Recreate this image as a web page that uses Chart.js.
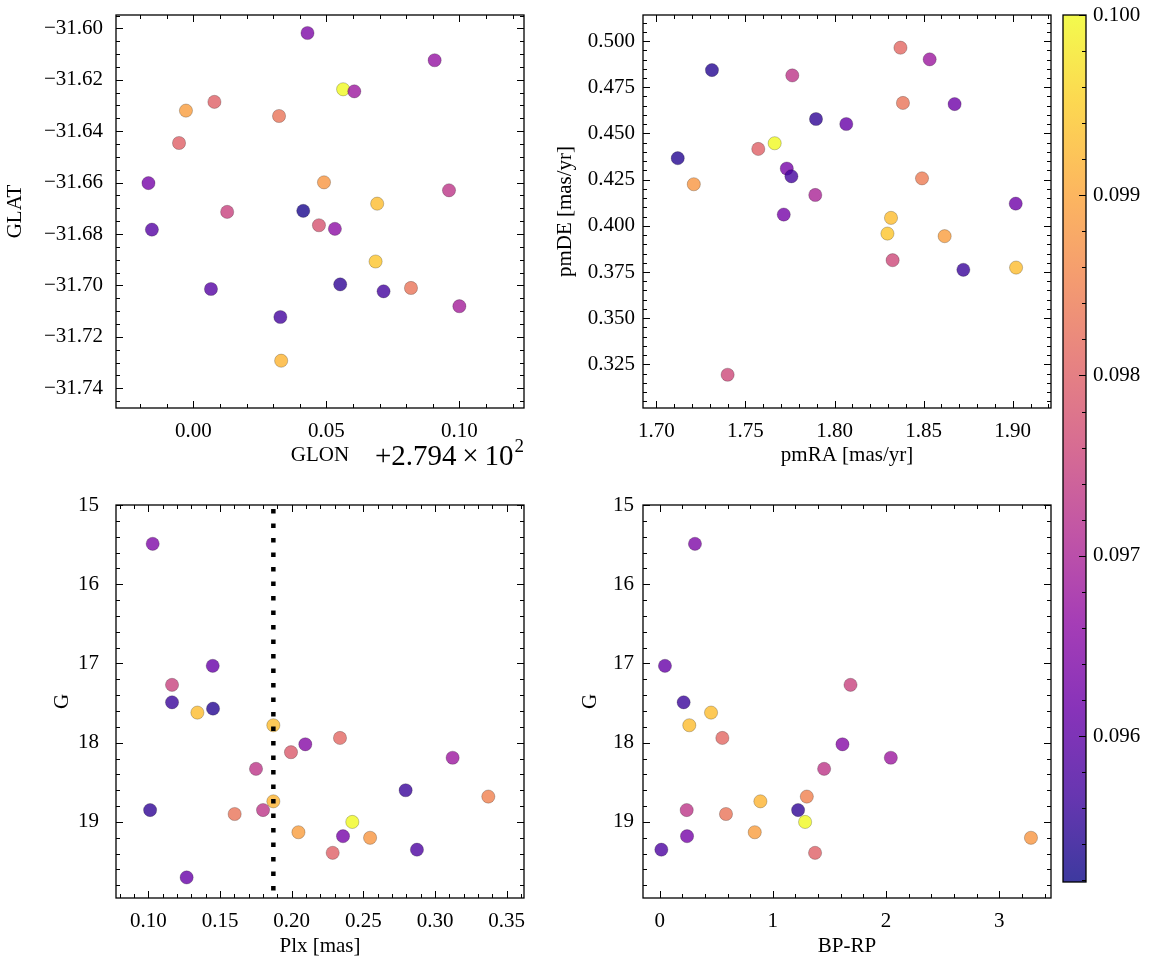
<!DOCTYPE html>
<html>
<head>
<meta charset="utf-8">
<script src="https://cdn.jsdelivr.net/npm/chart.js@4.4.1/dist/chart.umd.min.js"></script>
<style>
  body { margin: 0; background: #fff; }
  #wrap { position: relative; width: 1155px; height: 965px; }
  canvas { position: absolute; }
</style>
</head>
<body>
<div id="wrap">
  <canvas id="pos"></canvas>
  <canvas id="pm"></canvas>
  <canvas id="plx"></canvas>
  <canvas id="cmd"></canvas>
  <canvas id="cbar"></canvas>
</div>
<script>
// ---- panel 1 : sky position ----
const glonOffset = 279.4;
const glon = [279.4429, 279.4907, 279.4563, 279.4605, 279.4079, 279.3972, 279.4322, 279.3946, 279.3831, 279.4491,
              279.4961, 279.4691, 279.4127, 279.4413, 279.4472, 279.4532, 279.3844, 279.4685, 279.4552, 279.4066,
              279.4715, 279.4818, 279.5000, 279.4327, 279.4330];
const glat = [-31.6018, -31.6124, -31.6237, -31.6245, -31.6286, -31.6320, -31.6341, -31.6446, -31.6602, -31.6599,
              -31.6630, -31.6682, -31.6714, -31.6710, -31.6766, -31.6780, -31.6783, -31.6907, -31.6996, -31.7014,
              -31.7023, -31.7010, -31.7081, -31.7123, -31.7293];
const cPos = [0.0964, 0.0967, 0.1000, 0.0968, 0.0980, 0.0989, 0.0983, 0.0980, 0.0963, 0.0988,
              0.0973, 0.0993, 0.0975, 0.0953, 0.0978, 0.0966, 0.0959, 0.0994, 0.0955, 0.0959,
              0.0957, 0.0983, 0.0969, 0.0957, 0.0992];
const glonTicks = [279.40, 279.45, 279.50];
const glatTicks = [-31.60, -31.62, -31.64, -31.66, -31.68, -31.70, -31.72, -31.74];

// ---- panel 2 : proper motions ----
const pmra = [1.8370, 1.8534, 1.7312, 1.7763, 1.8384, 1.8674, 1.7896, 1.8066, 1.7664, 1.7572,
              1.7120, 1.7732, 1.7758, 1.7210, 1.8491, 1.7892, 1.7715, 1.9017, 1.8317, 1.8297,
              1.8618, 1.8326, 1.8723, 1.9019, 1.7400];
const pmde = [0.4964, 0.4901, 0.4843, 0.4814, 0.4665, 0.4659, 0.4578, 0.4551, 0.4447, 0.4416,
              0.4366, 0.4310, 0.4268, 0.4225, 0.4257, 0.4167, 0.4061, 0.4120, 0.4043, 0.3958,
              0.3944, 0.3814, 0.3762, 0.3774, 0.3194];
const cPm = [0.0981, 0.0968, 0.0954, 0.0973, 0.0983, 0.0962, 0.0955, 0.0961, 0.1000, 0.0980,
             0.0954, 0.0963, 0.0957, 0.0988, 0.0984, 0.0970, 0.0963, 0.0962, 0.0993, 0.0994,
             0.0989, 0.0976, 0.0956, 0.0993, 0.0976];
const pmraTicks = [1.70, 1.75, 1.80, 1.85, 1.90];
const pmdeTicks = [0.325, 0.350, 0.375, 0.400, 0.425, 0.450, 0.475, 0.500];

// ---- panels 3 & 4 : parallax and colour-magnitude ----
const plx  = [0.1030, 0.1449, 0.1165, 0.1165, 0.1342, 0.1451, 0.1872, 0.2337, 0.2095, 0.1995,
              0.3123, 0.1751, 0.2795, 0.3372, 0.1872, 0.1012, 0.1602, 0.1800, 0.2423, 0.2047,
              0.2547, 0.2358, 0.2874, 0.2286, 0.1267];
const gmag = [15.49, 17.03, 17.27, 17.49, 17.62, 17.57, 17.78, 17.94, 18.02, 18.12,
              18.19, 18.33, 18.60, 18.68, 18.74, 18.85, 18.90, 18.85, 19.00, 19.13,
              19.20, 19.18, 19.35, 19.39, 19.70];
const bprp = [0.312, 0.047, 1.686, 0.212, 0.454, null, 0.262, 0.554, 1.615, null,
              2.042, 1.453, null, 1.300, 0.890, 1.223, 0.586, 0.239, 1.285, 0.840,
              3.280, 0.242, 0.015, 1.373, null];
const cStar = [0.0964, 0.0961, 0.0975, 0.0956, 0.0993, 0.0954, 0.0993, 0.0981, 0.0965, 0.0979,
               0.0968, 0.0973, 0.0956, 0.0985, 0.0992, 0.0955, 0.0983, 0.0973, 0.1000, 0.0989,
               0.0988, 0.0963, 0.0958, 0.0980, 0.0961];
const plxCut = 0.1872;
const plxTicks = [0.10, 0.15, 0.20, 0.25, 0.30, 0.35];
const gTicks = [15, 16, 17, 18, 19];
const bprpTicks = [0, 1, 2, 3];

// ---- colour bar ----
const vmin = 0.09519, vmax = 0.1;
const cbarTicks = [0.096, 0.097, 0.098, 0.099, 0.100];

const plasma = ['#0d0887', '#41049d', '#6a00a8', '#8f0da4', '#b12a90', '#cc4778',
                '#e16462', '#f2844b', '#fca636', '#fcce25', '#f0f921'];

function hexRgb(h) {
  return [1, 3, 5].map(i => parseInt(h.substr(i, 2), 16));
}
function cmap(v, alpha) {
  let t = (v - vmin) / (vmax - vmin);
  t = Math.min(1, Math.max(0, t));
  const f = t * 10;
  const i = Math.min(9, Math.floor(f));
  const a = hexRgb(plasma[i]), b = hexRgb(plasma[i + 1]);
  const c = a.map((x, k) => Math.round(x + (b[k] - x) * (f - i)));
  return `rgba(${c[0]},${c[1]},${c[2]},${alpha})`;
}

Chart.defaults.font.family = "'Liberation Serif', 'Times New Roman', serif";
Chart.defaults.font.size = 21;
Chart.defaults.color = '#000';
Chart.defaults.animation = false;

// inside ticks on every side + black frame
const frameTicks = {
  id: 'frameTicks',
  afterDraw(chart, args, o) {
    const {ctx, chartArea: a} = chart;
    const sides = o.sides || ['top', 'bottom', 'left', 'right'];
    ctx.save();
    ctx.strokeStyle = '#000';
    ctx.lineWidth = 1.3;
    ctx.strokeRect(a.left, a.top, a.right - a.left, a.bottom - a.top);
    ctx.lineWidth = 1;
    ctx.beginPath();
    const mark = (scale, minor) => {
      if (!scale || scale.options.display === false) return;
      const majors = scale.ticks.map(t => t.value);
      const vals = majors.map(v => [v, 7]);
      if (minor) {
        const lo = Math.min(scale.min, scale.max), hi = Math.max(scale.min, scale.max);
        for (let k = Math.ceil(lo / minor - 1e-6); k * minor <= hi + 1e-9; k++) {
          const v = k * minor;
          if (!majors.some(m => Math.abs(m - v) < minor / 10)) vals.push([v, 4]);
        }
      }
      vals.forEach(([v, len]) => {
        const p = Math.round(scale.getPixelForValue(v)) + 0.5;
        if (scale.isHorizontal()) {
          if (sides.includes('bottom')) { ctx.moveTo(p, a.bottom); ctx.lineTo(p, a.bottom - len); }
          if (sides.includes('top')) { ctx.moveTo(p, a.top); ctx.lineTo(p, a.top + len); }
        } else {
          if (sides.includes('left')) { ctx.moveTo(a.left, p); ctx.lineTo(a.left + len, p); }
          if (sides.includes('right')) { ctx.moveTo(a.right, p); ctx.lineTo(a.right - len, p); }
        }
      });
    };
    mark(chart.scales.x, o.xMinor);
    mark(chart.scales.y, o.yMinor);
    ctx.stroke();
    ctx.restore();
  }
};

// "+2.794 x 10^2" offset text under the GLON axis
const offsetText = {
  id: 'offsetText',
  afterDraw(chart) {
    const {ctx, chartArea: a} = chart;
    const base = 465;
    ctx.save();
    ctx.fillStyle = '#000';
    ctx.textBaseline = 'alphabetic';
    ctx.font = "19px 'Liberation Serif'";
    const wSup = ctx.measureText('2').width;
    ctx.textAlign = 'left';
    ctx.fillText('2', a.right - wSup, base - 13);
    ctx.font = "29px 'Liberation Serif'";
    ctx.textAlign = 'right';
    ctx.fillText('+2.794\u2009\u00d7\u200910', a.right - wSup - 1, base);
    ctx.restore();
  }
};

function axis(o) {
  return {
    type: 'linear',
    min: o.min, max: o.max,
    reverse: !!o.reverse,
    position: o.position,
    display: o.display !== false,
    grid: {display: false, drawTicks: false},
    border: {display: false},
    afterBuildTicks: s => { s.ticks = o.ticks.map(v => ({value: v})); },
    afterFit: s => {
      if (s.isHorizontal()) { s.height = o.size; s.paddingLeft = 0; s.paddingRight = 0; }
      else { s.width = o.size; s.paddingTop = 0; s.paddingBottom = 0; }
    },
    ticks: {callback: o.fmt, padding: o.pad, maxRotation: 0, autoSkip: false},
    title: {display: !!o.title, text: o.title, padding: 0}
  };
}

function place(id, left, top, width, height) {
  const cv = document.getElementById(id);
  cv.style.left = left + 'px';
  cv.style.top = top + 'px';
  cv.width = width;
  cv.height = height;
  return cv;
}

function scatterSet(xs, ys, cs) {
  const pts = [], cols = [];
  xs.forEach((x, i) => {
    if (x === null) return;
    pts.push({x: x, y: ys[i]});
    cols.push(cmap(cs[i], 0.8));
  });
  return {
    type: 'scatter',
    data: pts,
    backgroundColor: cols,
    borderColor: 'rgba(0,0,0,0.28)',
    borderWidth: 0.8,
    pointRadius: 6.6,
    order: 1
  };
}

function panel(id, box, xAx, yAx, datasets, minors, extra) {
  return new Chart(place(id, box.left, box.top, box.width, box.height), {
    type: 'scatter',
    data: {datasets: datasets},
    options: {
      responsive: false,
      layout: {padding: {top: 15, right: 10, left: 0, bottom: 0}},
      scales: {x: axis(xAx), y: axis(yAx)},
      plugins: {
        legend: {display: false},
        tooltip: {enabled: false},
        frameTicks: minors
      }
    },
    plugins: [frameTicks].concat(extra || [])
  });
}

const fmtSigned = d => v => (v < 0 ? '\u2212' : '') + Math.abs(v).toFixed(d);

panel('pos', {left: 3, top: 0, width: 531, height: 468},
  {min: 279.3709, max: 279.5243, ticks: glonTicks, size: 60, pad: 11, title: 'GLON',
   fmt: v => Math.abs(v - glonOffset).toFixed(2)},
  {min: -31.7477, max: -31.5948, ticks: glatTicks, size: 113, pad: 13, title: 'GLAT',
   fmt: fmtSigned(2)},
  [scatterSet(glon, glat, cPos)],
  {xMinor: 0.01, yMinor: 0.005},
  [offsetText]);

panel('pm', {left: 553, top: 0, width: 508, height: 468},
  {min: 1.6925, max: 1.9215, ticks: pmraTicks, size: 60, pad: 11, title: 'pmRA [mas/yr]',
   fmt: v => v.toFixed(2)},
  {min: 0.3014, max: 0.5141, ticks: pmdeTicks, size: 90, pad: 8, title: 'pmDE [mas/yr]',
   fmt: v => v.toFixed(3)},
  [scatterSet(pmra, pmde, cPm)],
  {xMinor: 0.01, yMinor: 0.005});

panel('plx', {left: 50, top: 490, width: 484, height: 469},
  {min: 0.0774, max: 0.3621, ticks: plxTicks, size: 61, pad: 11, title: 'Plx [mas]',
   fmt: v => v.toFixed(2)},
  {min: 15, max: 19.96, reverse: true, ticks: gTicks, size: 66, pad: 17, title: 'G',
   fmt: v => String(v)},
  [scatterSet(plx, gmag, cStar),
   {type: 'line', data: [{x: plxCut, y: 14.5}, {x: plxCut, y: 20.5}],
    borderColor: '#000', borderWidth: 4.5, borderDash: [4.5, 10], borderCapStyle: 'butt',
    pointRadius: 0, clip: 0, order: 0}],
  {xMinor: 0.01, yMinor: 0.2});

panel('cmd', {left: 578, top: 490, width: 483, height: 469},
  {min: -0.147, max: 3.457, ticks: bprpTicks, size: 61, pad: 11, title: 'BP-RP',
   fmt: v => String(v)},
  {min: 15, max: 19.96, reverse: true, ticks: gTicks, size: 65, pad: 9, title: 'G',
   fmt: v => String(v)},
  [scatterSet(bprp, gmag, cStar)],
  {xMinor: 0.2, yMinor: 0.2});

// colour bar
const cbarFill = {
  id: 'cbarFill',
  beforeDatasetsDraw(chart) {
    const {ctx, chartArea: a, scales: {y}} = chart;
    const g = ctx.createLinearGradient(0, y.getPixelForValue(vmin), 0, y.getPixelForValue(vmax));
    plasma.forEach((c, i) => g.addColorStop(i / 10, cmap(vmin + (vmax - vmin) * i / 10, 0.8)));
    ctx.save();
    ctx.fillStyle = g;
    ctx.fillRect(a.left, a.top, a.right - a.left, a.bottom - a.top);
    ctx.restore();
  }
};

new Chart(place('cbar', 1050, 0, 105, 900), {
  type: 'scatter',
  data: {datasets: [{data: []}]},
  options: {
    responsive: false,
    layout: {padding: {top: 15, left: 13, bottom: 18, right: 0}},
    scales: {
      x: axis({min: 0, max: 1, ticks: [], size: 0, display: false}),
      y: axis({min: vmin, max: vmax, ticks: cbarTicks, size: 69, pad: 7, position: 'right',
               fmt: v => v.toFixed(3)})
    },
    plugins: {
      legend: {display: false},
      tooltip: {enabled: false},
      frameTicks: {yMinor: 0.0002, sides: ['right']}
    }
  },
  plugins: [cbarFill, frameTicks]
});
</script>
</body>
</html>
